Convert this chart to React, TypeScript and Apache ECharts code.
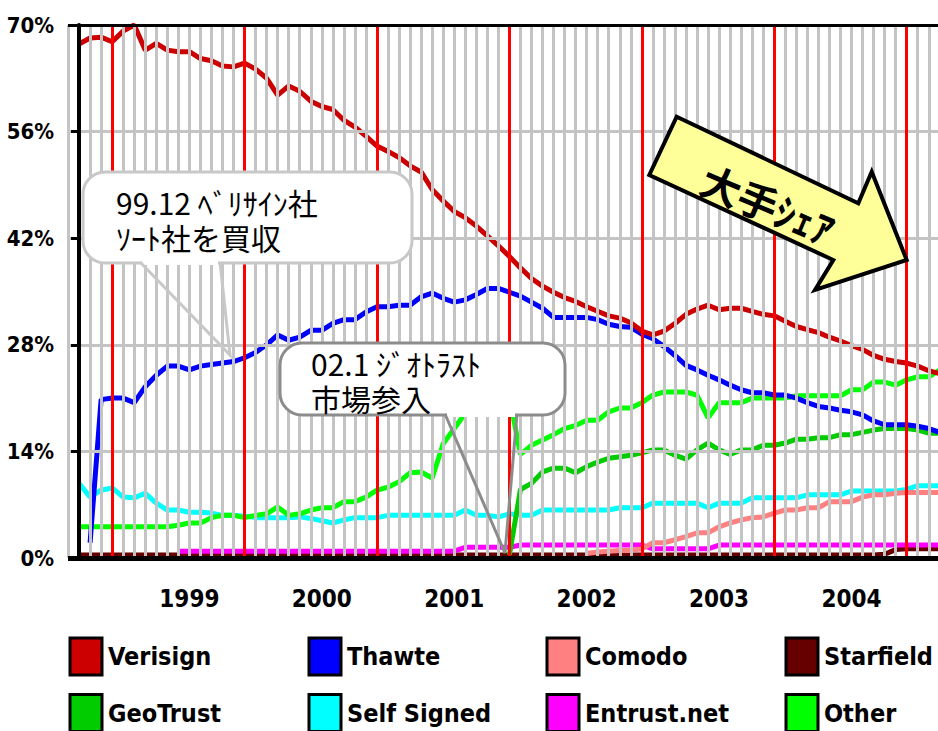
import React, { useEffect, useRef } from 'react';
import * as echarts from 'echarts';

// Monthly categories, Oct 1998 .. Apr 2005
const months: string[] = (() => {
  const out: string[] = [];
  let y = 1998;
  let m = 10;
  for (let k = 0; k < 79; k++) {
    out.push(`${y}-${String(m).padStart(2, '0')}`);
    m++;
    if (m > 12) { m = 1; y++; }
  }
  return out;
})();

const yearLabelMonth = '08';
const yearLineMonth = '01';

const verisign = [
  67.5, 68.3, 68.4, 67.8, 69.2, 70.0, 66.7, 67.6, 66.7, 66.5,
  66.5, 65.6, 65.3, 64.6, 64.5, 65.0, 64.2, 63.0, 60.8, 62.0,
  61.3, 60.0, 59.3, 58.9, 57.5, 56.6, 55.4, 54.1, 53.4, 52.6,
  51.5, 50.7, 48.4, 46.9, 45.5, 44.7, 43.6, 42.3, 41.0, 39.6,
  38.1, 36.7, 35.7, 34.9, 34.2, 33.7, 33.0, 32.4, 31.8, 31.5,
  30.9, 29.8, 29.3, 29.8, 30.8, 32.0, 32.7, 33.2, 32.6, 32.8,
  32.8, 32.4, 32.0, 31.8, 31.1, 30.4, 30.0, 29.6, 29.0, 28.5,
  27.9, 27.4, 26.6, 26.1, 25.8, 25.6, 25.2, 24.6, 24.2,
];
const thawte = [
  null, 2.0, 20.8, 21.0, 21.0, 20.4, 22.5, 24.0, 25.2, 25.2,
  24.7, 25.2, 25.4, 25.6, 25.8, 26.3, 27.0, 28.0, 29.3, 28.6,
  29.0, 29.9, 29.9, 30.8, 31.3, 31.3, 32.3, 33.0, 33.0, 33.2,
  33.2, 34.3, 34.8, 34.1, 33.6, 33.9, 34.6, 35.4, 35.4, 34.9,
  34.4, 33.6, 32.8, 31.6, 31.6, 31.6, 31.6, 31.3, 30.7, 30.4,
  30.3, 29.4, 28.8, 27.8, 26.6, 25.3, 24.7, 24.0, 23.4, 22.7,
  22.1, 21.7, 21.7, 21.4, 21.4, 21.0, 20.4, 19.9, 19.7, 19.4,
  19.2, 18.8, 18.0, 17.5, 17.5, 17.5, 17.3, 17.0, 16.5,
];
const comodo = [
  null, null, null, null, null, null, null, null, null, null,
  null, null, null, null, null, null, null, null, null, null,
  null, null, null, null, null, null, null, null, null, null,
  null, null, null, null, null, null, null, null, null, null,
  null, null, null, null, null, null, 0.6, 0.8, 0.9, 1.0,
  1.0, 1.2, 2.0, 2.0, 2.4, 2.8, 3.3, 3.3, 4.1, 4.6,
  5.0, 5.3, 5.4, 5.9, 6.3, 6.3, 6.6, 6.6, 7.4, 7.4,
  7.4, 8.0, 8.3, 8.3, 8.5, 8.6, 8.6, 8.6, 8.6,
];
const starfield = [
  0.4, 0.4, 0.4, 0.4, 0.4, 0.4, 0.4, 0.4, 0.4, 0.4,
  0.4, 0.4, 0.4, 0.4, 0.4, 0.4, 0.4, 0.4, 0.4, 0.4,
  0.4, 0.4, 0.4, 0.4, 0.4, 0.4, 0.4, 0.4, 0.4, 0.4,
  0.4, 0.4, 0.4, 0.4, 0.4, 0.4, 0.4, 0.4, 0.4, 0.4,
  0.4, 0.4, 0.4, 0.4, 0.4, 0.4, 0.4, 0.4, 0.4, 0.4,
  0.4, 0.4, 0.4, 0.4, 0.4, 0.4, 0.4, 0.4, 0.4, 0.4,
  0.4, 0.4, 0.4, 0.4, 0.4, 0.4, 0.4, 0.4, 0.4, 0.4,
  0.4, 0.4, 0.4, 0.5, 1.1, 1.2, 1.2, 1.2, 1.2,
];
const geotrust = [
  null, null, null, null, null, null, null, null, null, null,
  null, null, null, null, null, null, null, null, null, null,
  null, null, null, null, null, null, null, null, null, null,
  null, null, null, null, null, null, null, null, null, 0.4,
  9.0, 9.8, 11.3, 11.8, 11.8, 11.2, 12.0, 12.6, 13.1, 13.3,
  13.5, 13.8, 14.2, 14.2, 13.5, 13.0, 14.2, 15.1, 14.2, 13.6,
  14.2, 14.2, 14.8, 14.8, 15.1, 15.6, 15.6, 15.8, 15.8, 16.2,
  16.2, 16.5, 16.8, 17.0, 17.0, 17.0, 16.8, 16.4, 16.4,
];
const selfSigned = [
  9.8, 8.0, 8.9, 9.2, 8.0, 7.9, 8.5, 7.2, 6.3, 6.3,
  6.0, 6.0, 5.9, 5.6, 5.6, 5.5, 5.3, 5.3, 5.3, 5.3,
  5.4, 5.2, 4.9, 4.6, 5.0, 5.3, 5.3, 5.3, 5.6, 5.6,
  5.6, 5.6, 5.6, 5.6, 5.6, 6.3, 5.6, 5.6, 5.4, 5.8,
  5.6, 5.6, 6.3, 6.3, 6.3, 6.3, 6.3, 6.3, 6.3, 6.6,
  6.6, 6.6, 7.2, 7.2, 7.2, 7.2, 7.2, 6.6, 7.2, 7.2,
  7.2, 7.9, 7.9, 7.9, 7.9, 7.9, 8.3, 8.3, 8.3, 8.3,
  8.8, 8.8, 8.8, 8.8, 8.8, 9.0, 9.5, 9.5, 9.5,
];
const entrust = [
  null, null, null, null, null, null, null, null, null, 0.9,
  0.9, 0.9, 0.9, 0.9, 0.9, 0.9, 0.9, 0.9, 0.9, 0.9,
  0.9, 0.9, 0.9, 0.9, 0.9, 0.9, 0.9, 0.9, 0.9, 0.9,
  0.9, 0.9, 0.9, 0.9, 0.9, 1.4, 1.4, 1.4, 1.4, 1.4,
  1.7, 1.7, 1.7, 1.7, 1.7, 1.7, 1.7, 1.7, 1.7, 1.7,
  1.7, 1.7, 1.2, 1.2, 1.2, 1.2, 1.2, 1.2, 1.7, 1.7,
  1.7, 1.7, 1.7, 1.7, 1.7, 1.7, 1.7, 1.7, 1.7, 1.7,
  1.7, 1.7, 1.7, 1.7, 1.7, 1.7, 1.7, 1.7, 1.7,
];
const other = [
  4.1, 4.1, 4.1, 4.1, 4.1, 4.1, 4.1, 4.1, 4.1, 4.3,
  4.6, 4.6, 5.3, 5.6, 5.6, 5.3, 5.6, 5.8, 6.7, 5.6,
  5.8, 6.3, 6.6, 6.6, 7.4, 7.4, 8.0, 8.9, 9.3, 10.0,
  11.2, 11.3, 10.5, 15.0, 17.0, 19.0, 19.5, 20.0, 20.6, 21.2,
  13.6, 14.8, 15.5, 16.2, 17.0, 17.4, 18.1, 18.1, 19.2, 19.7,
  19.7, 20.4, 21.4, 21.8, 21.8, 21.8, 21.4, 18.4, 20.4, 20.4,
  20.4, 21.0, 21.0, 21.0, 21.0, 21.3, 21.3, 21.3, 21.3, 21.3,
  22.1, 22.1, 23.1, 23.1, 22.7, 23.4, 23.8, 23.8, 24.7,
];

const seriesDefs = [
  { name: 'Starfield', color: '#660000', values: starfield },
  { name: 'Entrust.net', color: '#FF00FF', values: entrust },
  { name: 'Self Signed', color: '#00FFFF', values: selfSigned },
  { name: 'Comodo', color: '#FF8080', values: comodo },
  { name: 'GeoTrust', color: '#00CC00', values: geotrust },
  { name: 'Other', color: '#00FF00', values: other },
  { name: 'Thawte', color: '#0000FF', values: thawte },
  { name: 'Verisign', color: '#CC0000', values: verisign },
];

// legend grid: rows x columns
const legendRows = [
  ['Verisign', 'Thawte', 'Comodo', 'Starfield'],
  ['GeoTrust', 'Self Signed', 'Entrust.net', 'Other'],
];
const legendLefts = [68.5, 307.5, 545.5, 784.5];
const legendTops = [636.5, 693];

const callout1Lines = ['99.12 ﾍﾞﾘｻｲﾝ社', 'ｿｰﾄ社を買収'];
const callout2Lines = ['02.1 ｼﾞｵﾄﾗｽﾄ', '市場参入'];
const arrowText = '大手ｼｪｱ';

const FONT_PIX = "'DejaVu Sans Condensed', 'Liberation Sans', sans-serif";
const FONT_JP = "'Noto Sans CJK JP', sans-serif";

export default function App() {
  const ref = useRef<HTMLDivElement>(null);
  useEffect(() => {
    const chart = echarts.init(ref.current!, null, { renderer: 'svg' });
    const yearLineIdx = months
      .map((m, i) => (m.endsWith('-' + yearLineMonth) ? i : -1))
      .filter((i) => i >= 0);

    const legends: any[] = [];
    legendRows.forEach((row, r) => {
      row.forEach((name, c) => {
        legends.push({
          orient: 'horizontal',
          left: legendLefts[c],
          top: legendTops[r],
          padding: 0,
          itemWidth: 32,
          itemHeight: 37,
          icon: 'rect',
          selectedMode: false,
          data: [name],
          itemStyle: { borderColor: '#000', borderWidth: 3 },
          textStyle: { color: '#000', fontSize: 25, fontWeight: 'bold', fontFamily: FONT_PIX, padding: [0, 0, 0, 1] },
        });
      });
    });

    const calloutText = (line: string, x: number, yMid: number) => ({
      type: 'text', z: 22, x, y: yMid,
      style: {
        text: line,
        fontSize: 30, fontFamily: FONT_JP, fill: '#000',
        textVerticalAlign: 'middle', verticalAlign: 'middle',
      },
    });

    const option: any = {
      animation: false,
      backgroundColor: '#fff',
      grid: { left: 68, top: 25, right: -5, bottom: 173, containLabel: false, outerBoundsMode: 'none' },
      xAxis: {
        type: 'value',
        min: -1,
        max: 78.29,
        interval: 1,
        z: 3,
        axisLine: { show: false },
        axisTick: { show: false },
        splitLine: { show: true, lineStyle: { color: '#C4C4C4', width: 3 } },
        axisLabel: {
          margin: 29,
          color: '#000',
          fontFamily: FONT_PIX,
          fontWeight: 'bold',
          fontSize: 24,
          formatter: (v: number) => {
            const s = months[v];
            return s && s.endsWith('-' + yearLabelMonth) ? s.slice(0, 4) : '';
          },
        },
      },
      yAxis: {
        type: 'value',
        min: 0,
        max: 70,
        interval: 14,
        z: 3,
        axisLine: { show: true, lineStyle: { color: '#000', width: 4 } },
        axisTick: { show: true, length: 8, lineStyle: { color: '#000', width: 3 } },
        splitLine: { show: true, lineStyle: { color: '#C4C4C4', width: 3 } },
        axisLabel: {
          margin: 14,
          color: '#000',
          fontFamily: FONT_PIX,
          fontWeight: 'bold',
          fontSize: 22,
          formatter: '{value}%',
        },
      },
      legend: legends,
      series: [
        ...seriesDefs.map((s) => ({
          name: s.name,
          type: 'line',
          z: 2,
          silent: true,
          symbol: 'none',
          showSymbol: false,
          connectNulls: false,
          itemStyle: { color: s.color },
          lineStyle: { color: s.color, width: 5, cap: 'butt' },
          data: s.values.map((v, i) => [i, v]),
        })),
        {
          type: 'line',
          data: [],
          silent: true,
          markLine: {
            z: 5,
            silent: true,
            symbol: ['none', 'none'],
            label: { show: false },
            lineStyle: { color: '#FF0000', width: 3, type: 'solid' },
            data: yearLineIdx.map((i) => ({ xAxis: i })),
          },
        },
        {
          type: 'line',
          data: [],
          silent: true,
          markLine: {
            z: 6,
            silent: true,
            symbol: ['none', 'none'],
            label: { show: false },
            lineStyle: { color: '#000', type: 'solid' },
            data: [
              { yAxis: 70, lineStyle: { color: '#000', width: 3, type: 'solid' } },
              { yAxis: 0, lineStyle: { color: '#000', width: 5, type: 'solid' } },
            ],
          },
        },
      ],
      graphic: {
        elements: [
          {
            type: 'rect', z: 20,
            shape: { x: 83, y: 172, width: 329, height: 91, r: 22 },
            style: { fill: '#fff', stroke: '#C8C8C8', lineWidth: 3 },
          },
          {
            type: 'line', z: 21,
            shape: { x1: 142, y1: 263, x2: 218, y2: 263 },
            style: { stroke: '#fff', lineWidth: 4 },
          },
          {
            type: 'polyline', z: 21,
            shape: { points: [[140, 262], [230, 355], [220, 262]] },
            style: { stroke: '#C8C8C8', lineWidth: 3, fill: 'none' },
          },
          calloutText(callout1Lines[0], 116, 202),
          calloutText(callout1Lines[1], 116, 237),
          {
            type: 'rect', z: 20,
            shape: { x: 280, y: 343, width: 285, height: 72, r: 22 },
            style: { fill: '#fff', stroke: '#8C8C8C', lineWidth: 3 },
          },
          {
            type: 'line', z: 21,
            shape: { x1: 447, y1: 415, x2: 515, y2: 415 },
            style: { stroke: '#fff', lineWidth: 4 },
          },
          {
            type: 'polyline', z: 21,
            shape: { points: [[445, 414], [505, 553], [517, 414]] },
            style: { stroke: '#8C8C8C', lineWidth: 3, fill: 'none' },
          },
          calloutText(callout2Lines[0], 311, 363),
          calloutText(callout2Lines[1], 311, 398),
          {
            type: 'polygon', z: 20,
            shape: {
              points: [
                [676.7, 116.7], [858.3, 203.3], [871.7, 171.7], [906.7, 260],
                [815, 290], [833.3, 260], [649.3, 175],
              ],
            },
            style: { fill: '#FFFF99', stroke: '#000', lineWidth: 4, lineJoin: 'miter' },
          },
          {
            type: 'text', z: 22, x: 768, y: 204, rotation: -0.4,
            style: {
              text: arrowText,
              fontSize: 40, fontWeight: 'bold', fontFamily: FONT_JP, fill: '#000',
              textAlign: 'center', align: 'center',
              textVerticalAlign: 'middle', verticalAlign: 'middle',
            },
          },
        ],
      },
    };
    chart.setOption(option);
    return () => chart.dispose();
  }, []);
  return (
    <div
      ref={ref}
      style={{ position: 'fixed', left: 0, top: 0, width: 938, height: 731, background: '#fff' }}
    />
  );
}
